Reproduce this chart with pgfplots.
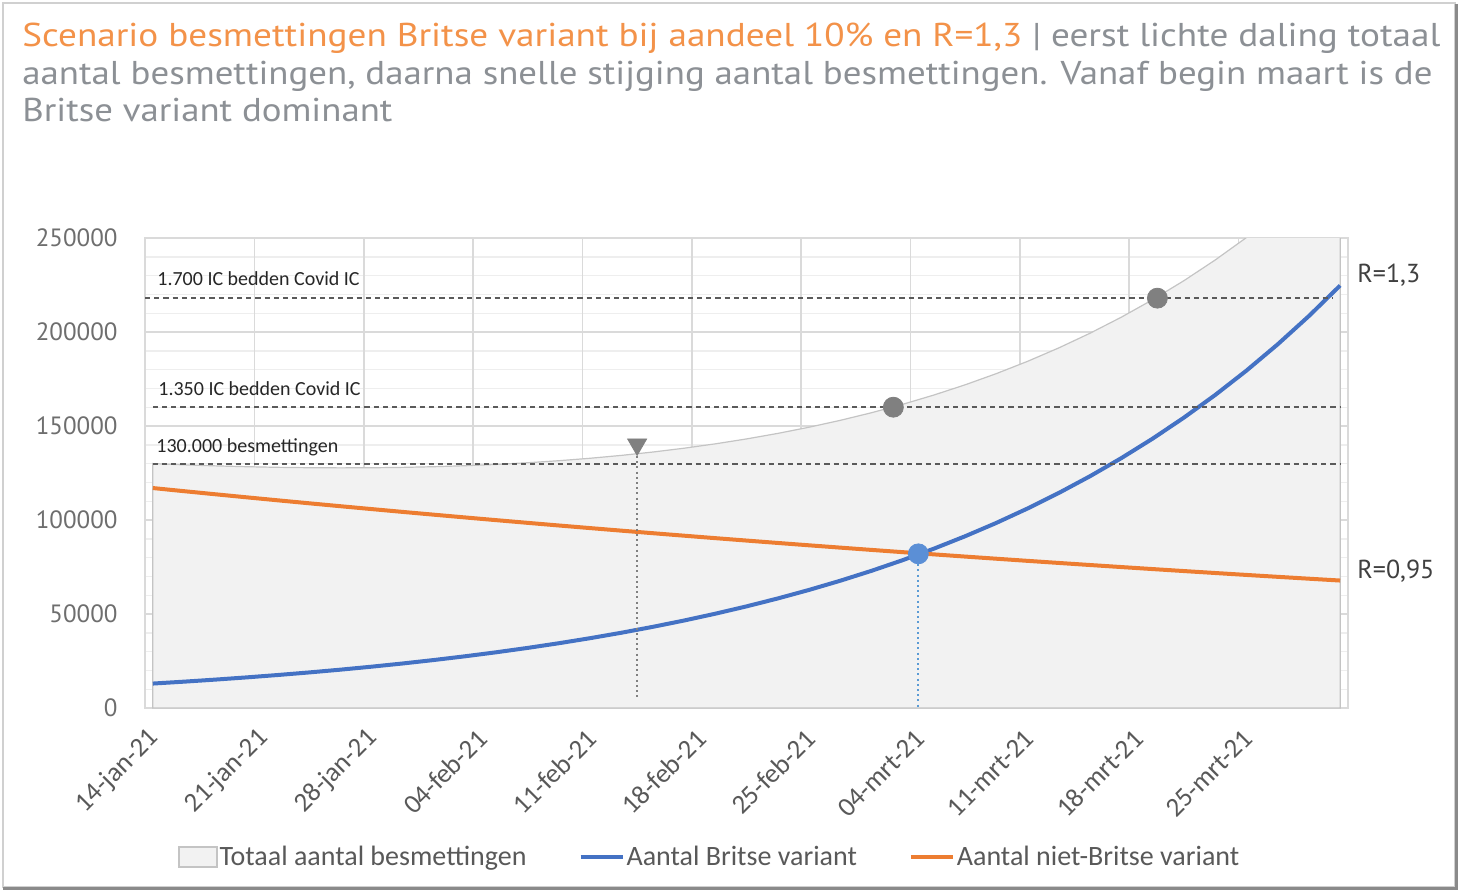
\documentclass[border=0pt]{standalone}
\usepackage{pgfplots}
\pgfplotsset{compat=1.18}
\usepackage{pgfplotstable}
\usepackage{fontspec}
\usepackage{graphicx}
\setmainfont{Carlito}
\newfontfamily\tfont{PT Sans}
\definecolor{torange}{HTML}{F39249}
\definecolor{tgray}{HTML}{8C9095}
\definecolor{gridc}{HTML}{DADADA}
\definecolor{minorc}{HTML}{EEEEEE}
\definecolor{areafill}{HTML}{F2F2F2}
\definecolor{areaedge}{HTML}{C4C4C4}
\definecolor{blueline}{HTML}{4472C4}
\definecolor{orangeline}{HTML}{ED7D31}
\definecolor{bluedot}{HTML}{5B8FD6}
\definecolor{bluedrop}{HTML}{5B9BD5}
\definecolor{dashc}{HTML}{5A5A5A}
\definecolor{markgray}{HTML}{808080}
\definecolor{labc}{HTML}{595959}
\definecolor{ylabc}{HTML}{6E6E6E}
\definecolor{framec}{HTML}{D0D0D0}
\definecolor{shadowc}{HTML}{8A8A8A}

\pgfplotstableread{
day brit niet totaal
0 13000 117000 130000
2 14013 115332 129345
4 15104 113688 128792
6 16280 112067 128347
8 17548 110469 128017
10 18915 108894 127809
12 20388 107342 127730
14 21976 105811 127787
16 23688 104303 127991
18 25533 102816 128349
20 27521 101350 128871
22 29665 99905 129570
24 31975 98480 130455
26 34466 97076 131542
28 37150 95692 132842
30 40043 94328 134371
32 43162 92983 136145
34 46524 91658 138182
36 50147 90351 140498
38 54053 89063 143116
40 58263 87793 146056
42 62801 86541 149342
44 67692 85307 152999
46 72964 84091 157055
48 78647 82892 161539
50 84772 81711 166483
52 91375 80546 171921
54 98491 79397 177888
56 106162 78265 184427
58 114431 77150 191581
60 123343 76050 199393
62 132950 74965 207915
64 143305 73897 217202
66 154466 72843 227309
68 166497 71805 238302
70 179464 70781 250245
72 193442 69772 263214
74 208508 68777 277285
76 224748 67797 292545
}\data

\begin{document}
\begin{tikzpicture}
\useasboundingbox (0,0) rectangle (730pt,447pt);
\fill[white] (0,0) rectangle (730pt,447pt);
% outer frame with shadow
\draw[color=framec, line width=0.8pt] (1.6pt,3.6pt) rectangle (727.4pt,445.6pt);
\draw[color=shadowc, line width=1.6pt] (1.6pt,2.8pt) -- (728.2pt,2.8pt) -- (728.2pt,445pt);

% title
\node[anchor=base west, inner sep=0pt] at (11pt,423.5pt) {\resizebox{709pt}{\height}{\tfont\fontsize{16.5}{19}\selectfont\color{torange}Scenario besmettingen Britse variant bij aandeel 10\% en R=1,3\color{tgray}\ |\ eerst lichte daling totaal}};
\node[anchor=base west, inner sep=0pt] at (11pt,404.5pt) {\resizebox{705pt}{\height}{\tfont\fontsize{16.5}{19}\selectfont\color{tgray}aantal besmettingen, daarna snelle stijging aantal besmettingen. Vanaf begin maart is de}};
\node[anchor=base west, inner sep=0pt] at (11pt,386pt) {\resizebox{185pt}{\height}{\tfont\fontsize{16.5}{19}\selectfont\color{tgray}Britse variant dominant}};

\begin{axis}[
  at={(72.5pt,93pt)}, anchor=south west,
  scale only axis, width=601.5pt, height=235pt,
  xmin=-0.5, xmax=76.5, ymin=0, ymax=250000,
  xtick={0,7,...,70},
  xticklabels={14-jan-21,21-jan-21,28-jan-21,04-feb-21,11-feb-21,18-feb-21,25-feb-21,04-mrt-21,11-mrt-21,18-mrt-21,25-mrt-21},
  extra x ticks={6.5,13.5,20.5,27.5,34.5,41.5,48.5,55.5,62.5,69.5},
  extra x tick labels={},
  extra x tick style={grid=major, major grid style={draw=gridc, line width=0.8pt}},
  ytick={0,50000,...,250000},
  minor ytick={10000,20000,30000,40000,60000,70000,80000,90000,110000,120000,130000,140000,160000,170000,180000,190000,210000,220000,230000,240000},
  ymajorgrids, yminorgrids,
  major grid style={draw=gridc, line width=0.8pt},
  minor grid style={draw=minorc, line width=0.7pt},
  major tick length=0pt, minor tick length=0pt,
  axis line style={draw=gridc, line width=0.8pt},
  scaled y ticks=false,
  /pgf/number format/assume math mode=true,
  /pgf/number format/.cd, fixed, 1000 sep={}, /pgfplots/.cd,
  yticklabel style={font=\tfont\fontsize{12.5}{14}\selectfont, text=ylabc, anchor=east, inner sep=0pt, xshift=-13.5pt},
  xticklabel style={font=\fontsize{13.5}{15}\selectfont, text=labc, xshift=1pt, yshift=-13pt, rotate=45, anchor=east, inner sep=0pt},
  legend style={at={(0.4695,-0.317)}, anchor=center, draw=none, fill=none,
    legend columns=3, font=\fontsize{14}{16}\selectfont, text=labc,
    nodes={inner sep=1pt},
    /tikz/every even column/.append style={column sep=25pt}},
  legend cell align=left,
]
\addplot[fill=areafill, draw=areaedge, line width=0.6pt, forget plot] table[x=day,y=totaal]{\data} \closedcycle;
\addplot[blueline, line width=2pt, forget plot] table[x=day,y=brit]{\data};
\addplot[orangeline, line width=2pt, forget plot] table[x=day,y=niet]{\data};
% reference lines
\addplot[dashc, line width=1.1pt, dash pattern=on 2.6pt off 2pt, forget plot] coordinates {(-0.5,218000) (75.5,218000)};
\addplot[dashc, line width=1.1pt, dash pattern=on 2.6pt off 2pt, forget plot] coordinates {(0,160000) (76,160000)};
\addplot[dashc, line width=1.1pt, dash pattern=on 2.6pt off 2pt, forget plot] coordinates {(0,130000) (76,130000)};
% drop lines
\addplot[markgray, line width=0.8pt, dash pattern=on 1pt off 1.6pt, forget plot] coordinates {(31,134000) (31,5500)};
\addplot[bluedrop, line width=1pt, dash pattern=on 1pt off 1.6pt, forget plot] coordinates {(49,82000) (49,0)};
% markers
\addplot[only marks, mark=*, mark size=5pt, mark options={fill=markgray, draw=markgray}, forget plot] coordinates {(47.4,160000) (64.3,218000)};
\addplot[only marks, mark=triangle*, mark size=5.5pt, mark options={rotate=180, fill=markgray, draw=markgray}, forget plot] coordinates {(31,140200)};
\addplot[only marks, mark=*, mark size=5pt, mark options={fill=bluedot, draw=bluedot}, forget plot] coordinates {(49,82000)};
% legend
\addlegendimage{legend image code/.code={\draw[fill=areafill, draw=areaedge, line width=0.6pt] (0pt,-5pt) rectangle (19pt,5pt);}}
\addlegendentry{Totaal aantal besmettingen}
\addlegendimage{legend image code/.code={\draw[blueline, line width=2pt] (0pt,0pt) -- (21pt,0pt);}}
\addlegendentry{Aantal Britse variant}
\addlegendimage{legend image code/.code={\draw[orangeline, line width=2pt] (0pt,0pt) -- (21pt,0pt);}}
\addlegendentry{Aantal niet-Britse variant}
\end{axis}

% annotations
\node[anchor=base west, inner sep=0pt, font=\fontsize{10}{12}\selectfont, text=black!85] at (78.5pt,304pt) {1.700 IC bedden Covid IC};
\node[anchor=base west, inner sep=0pt, font=\fontsize{10}{12}\selectfont, text=black!85] at (79pt,249pt) {1.350 IC bedden Covid IC};
\node[anchor=base west, inner sep=0pt, font=\fontsize{10}{12}\selectfont, text=black!85] at (78pt,220.5pt) {130.000 besmettingen};
\node[anchor=west, inner sep=0pt, font=\tfont\fontsize{13}{15}\selectfont, text=black!75] at (678.5pt,309.5pt) {R=1,3};
\node[anchor=west, inner sep=0pt, font=\tfont\fontsize{13}{15}\selectfont, text=black!75] at (678.5pt,161.5pt) {R=0,95};
\end{tikzpicture}
\end{document}
